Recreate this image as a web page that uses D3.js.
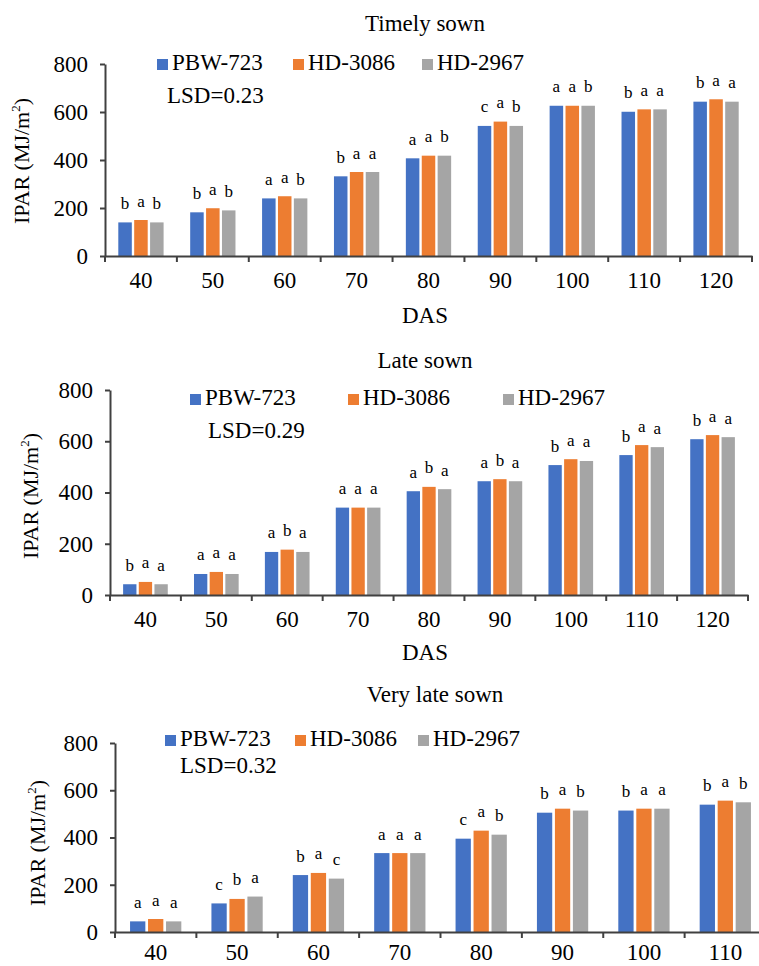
<!DOCTYPE html>
<html>
<head>
<meta charset="utf-8">
<script src="https://cdn.jsdelivr.net/npm/d3@7.9.0/dist/d3.min.js"></script>
<style>
    body { margin: 0; background: #fff; }
    svg text { font-family: 'Liberation Serif', 'Times New Roman', Times, serif; fill: #000; }
</style>
</head>
<body>
<svg id="chart" width="759" height="966"></svg>
<script>
const series = ['PBW-723', 'HD-3086', 'HD-2967'];
const seriesColors = ['#4472C4', '#ED7D31', '#A5A5A5'];
const yTicks = [0, 200, 400, 600, 800];

// Timely sown
const dasTimely = [40, 50, 60, 70, 80, 90, 100, 110, 120];
const timelyPBW723 = [140, 182, 240, 332, 407, 542, 626, 601, 643];
const timelyHD3086 = [150, 199, 249, 350, 418, 560, 626, 611, 653];
const timelyHD2967 = [140, 190, 240, 350, 418, 542, 626, 611, 643];
const timelyLetters = ['bab', 'bab', 'aab', 'baa', 'aab', 'cab', 'aab', 'baa', 'baa'];

// Late sown
const dasLate = [40, 50, 60, 70, 80, 90, 100, 110, 120];
const latePBW723 = [42, 82, 168, 341, 405, 444, 507, 546, 608];
const lateHD3086 = [51, 90, 177, 341, 422, 452, 530, 585, 624];
const lateHD2967 = [42, 82, 168, 341, 413, 444, 523, 577, 616];
const lateLetters = ['baa', 'aaa', 'aba', 'aaa', 'aba', 'aba', 'baa', 'baa', 'baa'];

// Very late sown
const dasVeryLate = [40, 50, 60, 70, 80, 90, 100, 110];
const veryLatePBW723 = [45, 121, 241, 334, 395, 505, 514, 539];
const veryLateHD3086 = [55, 140, 250, 334, 429, 522, 522, 556];
const veryLateHD2967 = [45, 150, 226, 334, 412, 514, 522, 549];
const veryLateLetters = ['aaa', 'cba', 'bac', 'aaa', 'cab', 'bab', 'baa', 'bab'];

const panels = [
    {
        title: 'Timely sown', lsd: 'LSD=0.23', das: dasTimely, letters: timelyLetters,
        values: [timelyPBW723, timelyHD3086, timelyHD2967],
        left: 105, right: 752, top: 64, bottom: 256, labelPad: 16,
        titleX: 425, titleY: 31, dasY: 323, yTitleX: 29, yTitleY: 161,
        legendY: 70, legendX: [157, 293, 422], lsdX: 167, lsdY: 103
    },
    {
        title: 'Late sown', lsd: 'LSD=0.29', das: dasLate, letters: lateLetters,
        values: [latePBW723, lateHD3086, lateHD2967],
        left: 110, right: 748, top: 390, bottom: 595, labelPad: 16,
        titleX: 425, titleY: 368, dasY: 660, yTitleX: 38, yTitleY: 496,
        legendY: 405, legendX: [190, 348, 503], lsdX: 208, lsdY: 438
    },
    {
        // the x axis runs past the right edge of the picture, as in the source
        title: 'Very late sown', lsd: 'LSD=0.32', das: dasVeryLate, letters: veryLateLetters,
        values: [veryLatePBW723, veryLateHD3086, veryLateHD2967],
        left: 115, right: 766, top: 743, bottom: 932, labelPad: 12,
        titleX: 435, titleY: 702, dasY: null, yTitleX: 45, yTitleY: 843,
        legendY: 746, legendX: [165, 295, 418], lsdX: 180, lsdY: 773
    }
];

const fontFamily = "'Liberation Serif', 'Times New Roman', Times, serif";
const svg = d3.select('#chart').attr('font-family', fontFamily);
const axisColor = '#404040';

function drawPanel(p) {
    const g = svg.append('g');

    const x0 = d3.scaleBand().domain(p.das).range([p.left, p.right])
        .paddingInner(0.37).paddingOuter(0.185);
    const x1 = d3.scaleBand().domain(d3.range(series.length))
        .range([0, x0.bandwidth()]).paddingInner(0.15);
    const y = d3.scaleLinear().domain([0, 800]).range([p.bottom, p.top]);

    const rows = p.das.flatMap((d, i) => series.map((s, j) => ({
        das: d, s: j, value: p.values[j][i], letter: p.letters[i][j]
    })));

    // bars
    g.selectAll('rect.bar').data(rows).join('rect')
        .attr('class', 'bar')
        .attr('x', (d) => x0(d.das) + x1(d.s))
        .attr('y', (d) => y(d.value))
        .attr('width', x1.bandwidth())
        .attr('height', (d) => y(0) - y(d.value))
        .attr('fill', (d) => seriesColors[d.s]);

    // significance letters
    g.selectAll('text.letter').data(rows).join('text')
        .attr('class', 'letter')
        .attr('x', (d) => x0(d.das) + x1(d.s) + x1.bandwidth() / 2)
        .attr('y', (d) => y(d.value) - 13.5)
        .attr('text-anchor', 'middle')
        .attr('font-size', 17)
        .text((d) => d.letter);

    // y axis
    const yAxis = g.append('g')
        .attr('transform', `translate(${p.left},0)`)
        .call(d3.axisLeft(y).tickValues(yTicks).tickSize(5).tickSizeOuter(0).tickPadding(12));
    yAxis.attr('font-family', fontFamily).attr('font-size', null);
    yAxis.selectAll('text').attr('font-size', 23).attr('fill', '#000');

    // x axis: labels at band centres, ticks between bands
    const xAxis = g.append('g')
        .attr('transform', `translate(0,${p.bottom})`)
        .call(d3.axisBottom(x0).tickSize(0).tickSizeOuter(0).tickPadding(p.labelPad));
    xAxis.attr('font-family', fontFamily).attr('font-size', null);
    xAxis.selectAll('text').attr('font-size', 23).attr('fill', '#000');
    xAxis.selectAll('line.sep').data(d3.range(p.das.length + 1)).join('line')
        .attr('class', 'sep')
        .attr('x1', (i) => x0.range()[0] + i * x0.step())
        .attr('x2', (i) => x0.range()[0] + i * x0.step())
        .attr('y1', 0).attr('y2', 6);

    [yAxis, xAxis].forEach((ax) => {
        ax.selectAll('path, line').attr('stroke', axisColor).attr('stroke-width', 2);
    });

    // title
    g.append('text')
        .attr('x', p.titleX).attr('y', p.titleY)
        .attr('text-anchor', 'middle').attr('font-size', 23)
        .text(p.title);

    // x axis title
    if (p.dasY !== null) {
        g.append('text')
            .attr('x', 425).attr('y', p.dasY)
            .attr('text-anchor', 'middle').attr('font-size', 23)
            .text('DAS');
    }

    // y axis title
    const yt = g.append('text')
        .attr('transform', `translate(${p.yTitleX},${p.yTitleY}) rotate(-90)`)
        .attr('text-anchor', 'middle').attr('font-size', 22);
    yt.append('tspan').text('IPAR (MJ/m');
    yt.append('tspan').attr('font-size', 13).attr('dy', -9).text('2');
    yt.append('tspan').attr('dy', 9).text(')');

    // legend
    series.forEach((s, j) => {
        g.append('rect')
            .attr('x', p.legendX[j]).attr('y', p.legendY - 11)
            .attr('width', 11).attr('height', 11)
            .attr('fill', seriesColors[j]);
        g.append('text')
            .attr('x', p.legendX[j] + 15).attr('y', p.legendY)
            .attr('font-size', 23)
            .text(s);
    });

    g.append('text')
        .attr('x', p.lsdX).attr('y', p.lsdY)
        .attr('font-size', 23)
        .text(p.lsd);
}

panels.forEach(drawPanel);
</script>
</body>
</html>
